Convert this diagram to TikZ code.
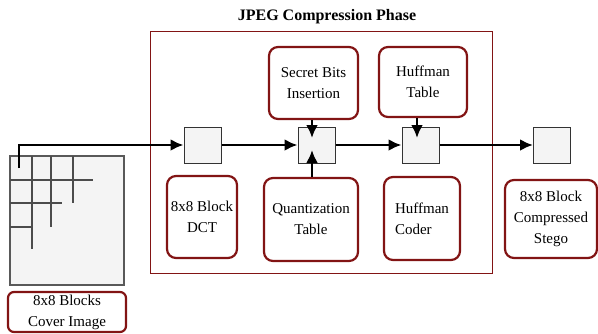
\documentclass[tikz,border=0pt]{standalone}
\usepackage{fontspec}
\setmainfont{Liberation Serif}
\usepackage{xcolor}
\usepackage{tikz}
\usetikzlibrary{positioning}
\usetikzlibrary{arrows.meta,calc}
\definecolor{boxred}{RGB}{130,20,20}
\definecolor{blkgray}{RGB}{244,244,244}
\tikzset{blk/.style={rectangle,draw=black!80,fill=blkgray,line width=1pt,minimum width=37pt,minimum height=36pt,inner sep=0pt}}
\tikzset{nd/.style={rectangle,rounded corners=9pt,draw=boxred,line width=2.2pt,fill=white,align=center,inner sep=2pt,font=\fontsize{15}{21}\selectfont}}
\tikzset{flow/.style={-{Latex[length=13pt,width=12pt]},line width=2.8pt}}

\begin{document}
\begin{tikzpicture}[x=1pt,y=-1pt]
	\useasboundingbox (0,0) rectangle (598,333);

	% compression frame
	\draw[boxred, line width=1pt] (150,31) rectangle (492,273);
	\node[font=\bfseries\fontsize{16}{18}\selectfont] (title) at (327,17) {JPEG Compression Phase};

	% cover image with its 8x8 blocks
	\draw[black!65, fill=blkgray, line width=1.2pt] (10,156) rectangle (124,285);
	\foreach \y/\len in {180/93, 203/62, 227/32}{
		\draw[black!70, line width=1.3pt] (10,\y) -- (\len,\y);
	}
	\foreach \x/\len in {32/249, 51/227, 73/203}{
		\draw[black!70, line width=1.3pt] (\x,156) -- (\x,\len);
	}
	\coordinate (start) at (19,168);

	% the blocks along the way
	\foreach \x/\name in {202.5/sq1, 316.5/sq2, 420.5/sq3, 552/sq4}{
		\node[blk] (\name) at (\x,145) {};
	}

	% labels
	\node[nd, minimum width=89pt, minimum height=72pt] (secret) at (313.5,83) {Secret Bits\\Insertion};
	\node[nd, minimum width=88pt, minimum height=70pt] (htable) at (423,82) {Huffman\\Table};
	\node[nd, minimum width=70pt, minimum height=82pt] (dct) at (202,217) {8x8 Block\\DCT};
	\node[nd, minimum width=94pt, minimum height=83pt] (quant) at (311,219.5) {Quantization\\Table};
	\node[nd, minimum width=76pt, minimum height=83pt, align=left] (hcoder) at (422,218.5) {Huffman\\Coder};
	\node[nd, minimum width=92pt, minimum height=78pt] (stego) at (551,219) {8x8 Block\\Compressed\\Stego};
	\node[nd, minimum width=118pt, minimum height=40pt, rounded corners=6pt] (cover) at (67,312) {8x8 Blocks\\Cover Image};

	% arrows
	\draw[flow] (start) |- (sq1.west);
	\draw[flow] (sq1) -- (sq2);
	\draw[flow] (sq2) -- (sq3);
	\draw[flow] (sq3) -- (sq4);
	\draw[flow] (secret.south -| 312,0) -- (312,138);
	\draw[flow] (quant.north -| 312,0) -- (312,150);
	\draw[flow] (htable.south -| 417,0) -- (417,138);

\end{tikzpicture}
\end{document}
